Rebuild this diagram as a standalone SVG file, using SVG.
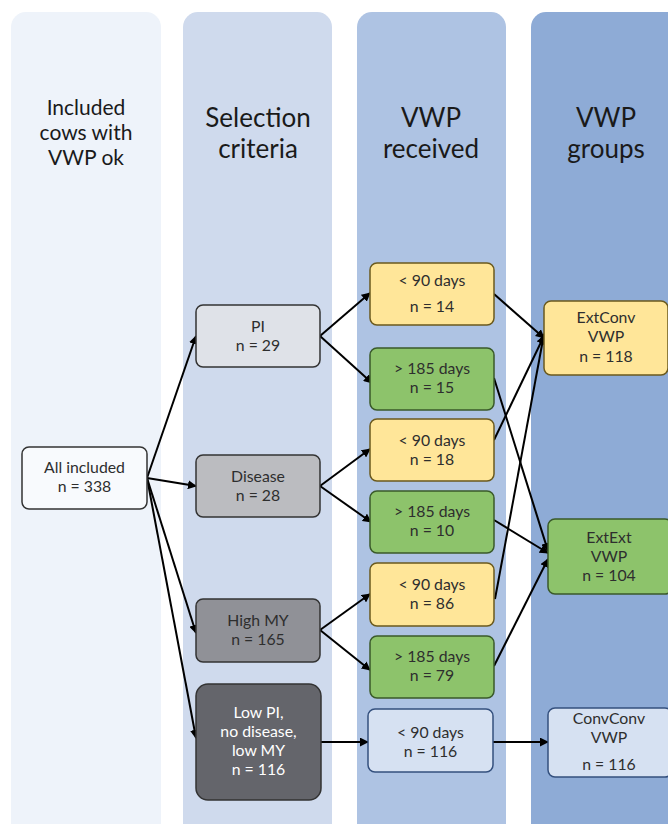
<svg xmlns="http://www.w3.org/2000/svg" width="668" height="824" viewBox="0 0 668 824">
<style>
.hdr{font-family:Lato,"Liberation Sans",sans-serif;fill:#1a1a1a;text-anchor:middle}
.t{font-family:Lato,"Liberation Sans",sans-serif;font-size:15.8px;text-anchor:middle;fill:#2e2e2e}
.w{fill:#ffffff}
.gray{stroke:#333;stroke-width:1.5}
.yel{fill:#ffe699;stroke:#6b5a1e;stroke-width:1.5}
.grn{fill:#8dc36b;stroke:#3a5a2a;stroke-width:1.5}
.lb{fill:#d6e1f2;stroke:#34507e;stroke-width:1.5}
.c line{stroke:#000;stroke-width:2;marker-end:url(#ah)}
</style>
<defs>
<marker id="ah" viewBox="0 0 10 10" refX="9" refY="5" markerWidth="4.5" markerHeight="4.5" orient="auto" markerUnits="strokeWidth">
<path d="M0,0 L10,5 L0,10 z" fill="#000"/>
</marker>
</defs>
<rect width="668" height="824" fill="#ffffff"/>
<g id="columns">
<rect x="11" y="12" width="150" height="830" rx="15" fill="#eef3fa"/>
<rect x="183" y="12" width="149" height="830" rx="15" fill="#cfdaed"/>
<rect x="357" y="12" width="149" height="830" rx="15" fill="#aec3e3"/>
<rect x="531" y="12" width="160" height="830" rx="15" fill="#8eabd6"/>
<text class="hdr" font-size="21" x="86" y="115">Included</text>
<text class="hdr" font-size="21" x="86" y="140">cows with</text>
<text class="hdr" font-size="21" x="86" y="165">VWP ok</text>
<text class="hdr" font-size="26" x="258" y="127">Selection</text>
<text class="hdr" font-size="26" x="258" y="158">criteria</text>
<text class="hdr" font-size="26" x="431" y="127">VWP</text>
<text class="hdr" font-size="26" x="431" y="158">received</text>
<text class="hdr" font-size="26" x="606" y="127">VWP</text>
<text class="hdr" font-size="26" x="606" y="158">groups</text>
</g>
<g class="c" id="connectors">
<line x1="147" y1="478" x2="196" y2="336"/>
<line x1="147" y1="478" x2="196" y2="486"/>
<line x1="147" y1="478" x2="196" y2="633"/>
<line x1="147" y1="478" x2="196" y2="738"/>
<line x1="320" y1="336" x2="370" y2="293"/>
<line x1="320" y1="336" x2="372" y2="383"/>
<line x1="320" y1="486" x2="370" y2="449"/>
<line x1="320" y1="486" x2="371" y2="522"/>
<line x1="320" y1="630" x2="370" y2="594"/>
<line x1="320" y1="630" x2="370" y2="670"/>
<line x1="321" y1="742" x2="368" y2="742"/>
<line x1="493" y1="742" x2="548" y2="742"/>
<line x1="494" y1="294" x2="544" y2="338"/>
<line x1="494" y1="440" x2="544" y2="336"/>
<line x1="495" y1="599" x2="544" y2="334"/>
<line x1="494" y1="378" x2="548" y2="551"/>
<line x1="494" y1="520" x2="548" y2="553"/>
<line x1="494" y1="666" x2="548" y2="559"/>
</g>
<g id="n_all">
<rect x="22" y="447" width="125" height="62" rx="7" fill="#f8fafd" class="gray"/>
<text class="t" x="84.5" y="473">All included</text>
<text class="t" x="84.5" y="492">n = 338</text>
</g>
<g id="n_pi">
<rect x="196" y="305" width="124" height="62" rx="7" fill="#dfe2e8" class="gray"/>
<text class="t" x="258" y="332">PI</text>
<text class="t" x="258" y="351">n = 29</text>
</g>
<g id="n_disease">
<rect x="196" y="455" width="124" height="62" rx="7" fill="#bbbcc0" class="gray"/>
<text class="t" x="258" y="482">Disease</text>
<text class="t" x="258" y="501">n = 28</text>
</g>
<g id="n_highmy">
<rect x="196" y="599" width="124" height="63" rx="7" fill="#909197" class="gray"/>
<text class="t" x="258" y="626">High MY</text>
<text class="t" x="258" y="645">n = 165</text>
</g>
<g id="n_lowpi">
<rect x="196" y="684" width="125" height="116" rx="12" fill="#64656b" class="gray"/>
<text class="t w" x="258.5" y="718">Low PI,</text>
<text class="t w" x="258.5" y="737">no disease,</text>
<text class="t w" x="258.5" y="756">low MY</text>
<text class="t w" x="258.5" y="775">n = 116</text>
</g>
<g id="n_lt90_14">
<rect x="370" y="263" width="124" height="62" rx="7" class="yel"/>
<text class="t" x="432" y="286">&lt; 90 days</text>
<text class="t" x="432" y="312">n = 14</text>
</g>
<g id="n_gt185_15">
<rect x="370" y="348" width="124" height="62" rx="7" class="grn"/>
<text class="t" x="432" y="374">&gt; 185 days</text>
<text class="t" x="432" y="393">n = 15</text>
</g>
<g id="n_lt90_18">
<rect x="370" y="419" width="124" height="62" rx="7" class="yel"/>
<text class="t" x="432" y="446">&lt; 90 days</text>
<text class="t" x="432" y="465">n = 18</text>
</g>
<g id="n_gt185_10">
<rect x="370" y="491" width="124" height="62" rx="7" class="grn"/>
<text class="t" x="432" y="517">&gt; 185 days</text>
<text class="t" x="432" y="536">n = 10</text>
</g>
<g id="n_lt90_86">
<rect x="370" y="563" width="124" height="63" rx="7" class="yel"/>
<text class="t" x="432" y="590">&lt; 90 days</text>
<text class="t" x="432" y="609">n = 86</text>
</g>
<g id="n_gt185_79">
<rect x="370" y="636" width="124" height="62" rx="7" class="grn"/>
<text class="t" x="432" y="662">&gt; 185 days</text>
<text class="t" x="432" y="681">n = 79</text>
</g>
<g id="n_lt90_116">
<rect x="368" y="709" width="125" height="63" rx="7" class="lb"/>
<text class="t" x="430.5" y="738">&lt; 90 days</text>
<text class="t" x="430.5" y="757">n = 116</text>
</g>
<g id="n_extconv">
<rect x="544" y="301" width="124" height="74" rx="7" class="yel"/>
<text class="t" x="606" y="323">ExtConv</text>
<text class="t" x="606" y="342">VWP</text>
<text class="t" x="606" y="362">n = 118</text>
</g>
<g id="n_extext">
<rect x="548" y="519" width="124" height="75" rx="7" class="grn"/>
<text class="t" x="609" y="543">ExtExt</text>
<text class="t" x="609" y="562">VWP</text>
<text class="t" x="609" y="581">n = 104</text>
</g>
<g id="n_convconv">
<rect x="548" y="708" width="124" height="69" rx="7" class="lb"/>
<text class="t" x="609" y="724">ConvConv</text>
<text class="t" x="609" y="743">VWP</text>
<text class="t" x="609" y="770">n = 116</text>
</g>
</svg>
